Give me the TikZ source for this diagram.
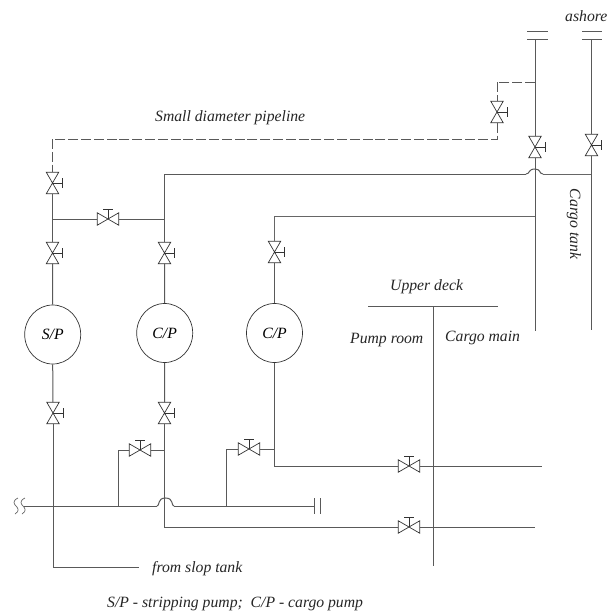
\documentclass[tikz,border=0pt]{standalone}
\usepackage{fontspec}
\setmainfont{Liberation Serif}
\usetikzlibrary{shapes.geometric}

% valve symbols, handle to the right or on top
\newcommand{\vvalve}[3]{%
\node [vbody] (#1) at (#2,#3) {};
\draw [valveline] (#1.north west) -- (#1.north east) -- (#1.south west) -- (#1.south east) -- cycle;
\draw [valveline] (#1.center) -- ++(10,0) ++(0,-5) -- ++(0,10);
}
\newcommand{\hvalve}[3]{%
\node [hbody] (#1) at (#2,#3) {};
\draw [valveline] (#1.north west) -- (#1.south west) -- (#1.north east) -- (#1.south east) -- cycle;
\draw [valveline] (#1.center) -- ++(0,-9.5) ++(-5,0) -- ++(10,0);
}

\begin{document}
\begin{tikzpicture}[x=1pt,y=-1pt]
\tikzstyle{pipe} = [draw=black!65, line width=1pt];
\tikzstyle{thinpipe} = [draw=black!60, line width=0.7pt];
\tikzstyle{valveline} = [draw=black!80, line width=0.7pt];
\tikzstyle{dashpipe} = [draw=black!65, line width=1pt, dash pattern=on 10pt off 2.8pt];
\tikzstyle{vbody} = [rectangle, minimum width=12pt, minimum height=21pt, inner sep=0pt];
\tikzstyle{hbody} = [rectangle, minimum width=21pt, minimum height=12pt, inner sep=0pt];
\tikzstyle{pump} = [ellipse, draw=black!80, line width=0.7pt, minimum width=56pt, minimum height=59pt, inner sep=0pt, font=\itshape\fontsize{15.7}{15.7}\selectfont];
\tikzstyle{label} = [inner sep=0pt, text=black!85, font=\itshape\fontsize{15.7}{15.7}\selectfont];
\useasboundingbox (0,0) rectangle (614,613);
\fill [white] (0,0) rectangle (614,613);

% pumps
\node [pump] (sp) at (52.7,334.5) {S/P};
\node [pump] (cpa) at (164.7,333) {C/P};
\node [pump] (cpb) at (274.5,333) {C/P};

% valves
\vvalve{vslop}{53}{413}
\vvalve{vsp}{52.5}{253}
\vvalve{vsmall}{52.5}{183}
\vvalve{vcpa}{164.5}{253}
\vvalve{vcpb}{274.5}{252}
\vvalve{vstrip}{164.5}{413}
\vvalve{vdash}{497}{112}
\vvalve{vmain}{535}{147}
\vvalve{vshore}{591.5}{145}
\hvalve{vcross}{108}{219}
\hvalve{vbya}{140}{450}
\hvalve{vbyb}{249}{449}
\hvalve{vlow}{409}{466}
\hvalve{vdeck}{409}{527}

% free ends and junctions
\coordinate (topa) at (535,39);
\coordinate (topb) at (591.5,39);
\coordinate (maina) at (535,331);
\coordinate (mainb) at (591.5,330);
\coordinate (dasha) at (535,82);
\coordinate (dashb) at (497,82);
\coordinate (dashc) at (497,139);
\coordinate (dashd) at (52.5,139);
\coordinate (crossa) at (52.5,219);
\coordinate (crossb) at (164.5,219);
\coordinate (uppera) at (164.5,174);
\coordinate (upperb) at (526,174);
\coordinate (upperc) at (543,174);
\coordinate (upperd) at (591.5,174);
\coordinate (seca) at (274.5,216);
\coordinate (secb) at (535,216);
\coordinate (bya) at (118,450);
\coordinate (byb) at (164.5,450);
\coordinate (byc) at (226,449);
\coordinate (byd) at (274.5,449);
\coordinate (lina) at (24,506);
\coordinate (linb) at (118,506);
\coordinate (linc) at (157,506);
\coordinate (lind) at (174,506);
\coordinate (line) at (226,506);
\coordinate (linf) at (314,506);
\coordinate (lowa) at (274.5,466);
\coordinate (lowb) at (541.5,466);
\coordinate (deca) at (164.5,527);
\coordinate (decb) at (535,527);
\coordinate (slopa) at (53,567);
\coordinate (slopb) at (139,567);
\coordinate (deckl) at (368,306);
\coordinate (deckr) at (498,306);
\coordinate (deckm) at (433,306);
\coordinate (deckb) at (433,566);

% left riser
\draw [pipe] (vslop.south) -- (slopa) -- (slopb);
\draw [pipe] (vslop.north) -- (sp.south);
\draw [pipe] (sp.north) -- (vsp.south);
\draw [pipe] (vsp.north) -- (vsmall.south);
\draw [pipe] (crossa) -- (vcross.west);
\draw [pipe] (vcross.east) -- (crossb);

% middle riser
\draw [pipe] (cpa.north) -- (vcpa.south);
\draw [pipe] (vcpa.north) -- (uppera) -- (upperb);
\draw [pipe] (upperb) .. controls (530,174) and (528,169) .. (535,169) .. controls (541,169) and (539,174) .. (upperc);
\draw [thinpipe] (upperc) -- (upperd);
\draw [pipe] (cpa.south) -- (vstrip.north);
\draw [pipe] (vstrip.south) -- (deca) -- (vdeck.west);
\draw [pipe] (vdeck.east) -- (decb);

% third pump
\draw [pipe] (cpb.north) -- (vcpb.south);
\draw [thinpipe] (vcpb.north) -- (seca) -- (secb);
\draw [pipe] (cpb.south) -- (lowa) -- (vlow.west);
\draw [pipe] (vlow.east) -- (lowb);

% bypasses and suction line
\draw [pipe] (byb) -- (vbya.east);
\draw [pipe] (vbya.west) -- (bya) -- (linb);
\draw [pipe] (byd) -- (vbyb.east);
\draw [pipe] (vbyb.west) -- (byc) -- (line);
\draw [pipe] (lina) -- (linc);
\draw [pipe] (linc) .. controls (160,506) and (157,498) .. (165.5,498) .. controls (174,498) and (171,506) .. (lind);
\draw [pipe] (lind) -- (linf);
\draw [pipe] (314,498) -- (314,514);
\draw [pipe] (320,498) -- (320,514);
\draw [thinpipe] (18,498) .. controls (12,501) and (14,504) .. (16,506) .. controls (18,508) and (20,511) .. (15,514);
\draw [thinpipe] (25,498) .. controls (19,501) and (21,504) .. (23,506) .. controls (25,508) and (27,511) .. (22,514);

% cargo mains
\draw [pipe] (topa) -- (vmain.north);
\draw [pipe] (vmain.south) -- (maina);
\draw [pipe] (topb) -- (vshore.north);
\draw [pipe] (vshore.south) -- (mainb);
\draw [pipe] (527,31) -- (548,31);
\draw [pipe] (527,39) -- (548,39);
\draw [pipe] (582,31) -- (602,31);
\draw [pipe] (582,39) -- (602,39);

% small diameter line
\draw [dashpipe] (dasha) -- (dashb) -- (vdash.north);
\draw [dashpipe] (vdash.south) -- (dashc) -- (dashd) -- (vsmall.north);

% deck
\draw [pipe] (deckl) -- (deckr);
\draw [pipe] (deckm) -- (deckb);

% texts
\node [label, anchor=base west] (tsmall) at (155,121) {Small diameter pipeline};
\node [label, anchor=base west] (tshore) at (565,21) {ashore};
\node [label, rotate=-90, anchor=base] (ttank) at (570,224) {Cargo tank};
\node [label, anchor=base west] (tdeck) at (390,290) {Upper deck};
\node [label, anchor=base west] (troom) at (350,343) {Pump room};
\node [label, anchor=base west] (tmain) at (445,341) {Cargo main};
\node [label, anchor=base west] (tslop) at (152,572) {from slop tank};
\node [label, anchor=base west] (tnote) at (107,607) {S/P - stripping pump;\ \ C/P - cargo pump};
\end{tikzpicture}
\end{document}
